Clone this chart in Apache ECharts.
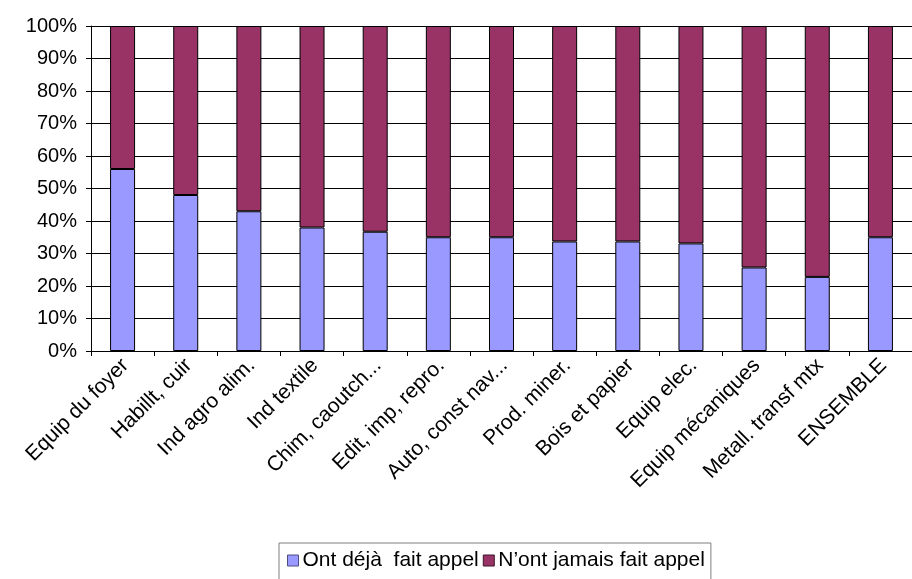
<!DOCTYPE html>
<html>
<head>
<meta charset="utf-8">
<script src="https://cdn.jsdelivr.net/npm/echarts@6/dist/echarts.min.js"></script>
<style>
  html, body { margin: 0; padding: 0; background: #fff; }
  #chart { width: 912px; height: 579px; }
</style>
</head>
<body>
<div id="chart"></div>
<script>
// Sectors, in display order
const categories = [
  'Equip du foyer', 'Habillt, cuir', 'Ind agro alim.', 'Ind textile',
  'Chim, caoutch...', 'Edit, imp, repro.', 'Auto, const nav...', 'Prod. miner.',
  'Bois et papier', 'Equip elec.', 'Equip mécaniques', 'Metall. transf mtx', 'ENSEMBLE'
];
// Share of firms (%) that have already used the service
const dejaFaitAppel = [56, 48, 43, 38, 36.7, 35, 35, 33.7, 33.7, 33.1, 25.7, 22.8, 35];
// Share of firms (%) that never used it
const jamaisFaitAppel = [44, 52, 57, 62, 63.3, 65, 65, 66.3, 66.3, 66.9, 74.3, 77.2, 65];
// Value axis tick labels
const yTickLabels = ['0%', '10%', '20%', '30%', '40%', '50%', '60%', '70%', '80%', '90%', '100%'];

const seriesNames = ['Ont déjà  fait appel', 'N\u2019ont jamais fait appel'];
const font = 'Liberation Sans, Arial, sans-serif';

const chart = echarts.init(document.getElementById('chart'), null, { renderer: 'canvas' });
chart.setOption({
  animation: false,
  backgroundColor: '#ffffff',
  grid: { left: 91, top: 26, right: -13, bottom: 228 },
  legend: {
    left: 279,
    top: 543,
    padding: [7, 6, 20, 8],
    borderColor: '#7f7f7f',
    borderWidth: 1,
    itemGap: 4,
    itemWidth: 11,
    itemHeight: 11,
    icon: 'rect',
    textStyle: { fontFamily: font, fontSize: 21, color: '#000', padding: [0, 0, 0, -1] },
    data: [
      { name: seriesNames[0], itemStyle: { color: '#9999ff', borderColor: '#4d4d80', borderWidth: 1 } },
      { name: seriesNames[1], itemStyle: { color: '#993366', borderColor: '#3d1429', borderWidth: 1 } }
    ]
  },
  xAxis: {
    type: 'category',
    data: categories,
    boundaryGap: true,
    axisLine: { lineStyle: { color: '#000', width: 1 } },
    axisTick: { show: true, alignWithLabel: false, length: 5, lineStyle: { color: '#000' } },
    axisLabel: {
      interval: 0,
      rotate: 45,
      margin: 14,
      fontFamily: font,
      fontSize: 21,
      color: '#000',
      padding: [0, -4, 0, 0]
    }
  },
  yAxis: {
    type: 'value',
    min: 0,
    max: 100,
    interval: 10,
    axisLine: { show: true, lineStyle: { color: '#000', width: 1 } },
    axisTick: { show: true, length: 5, lineStyle: { color: '#000' } },
    splitLine: { show: true, lineStyle: { color: '#000', width: 1 } },
    axisLabel: {
      margin: 14,
      fontFamily: font,
      fontSize: 20,
      color: '#000',
      formatter: (v) => yTickLabels[Math.round(v / 10)]
    }
  },
  series: [
    {
      name: seriesNames[0],
      type: 'bar',
      stack: 'total',
      barWidth: 25,
      data: dejaFaitAppel,
      itemStyle: { color: '#9999ff', borderColor: '#000', borderWidth: 1 }
    },
    {
      name: seriesNames[1],
      type: 'bar',
      stack: 'total',
      barWidth: 25,
      data: jamaisFaitAppel,
      itemStyle: { color: '#993366', borderColor: '#000', borderWidth: 1 }
    }
  ]
});
</script>
</body>
</html>
